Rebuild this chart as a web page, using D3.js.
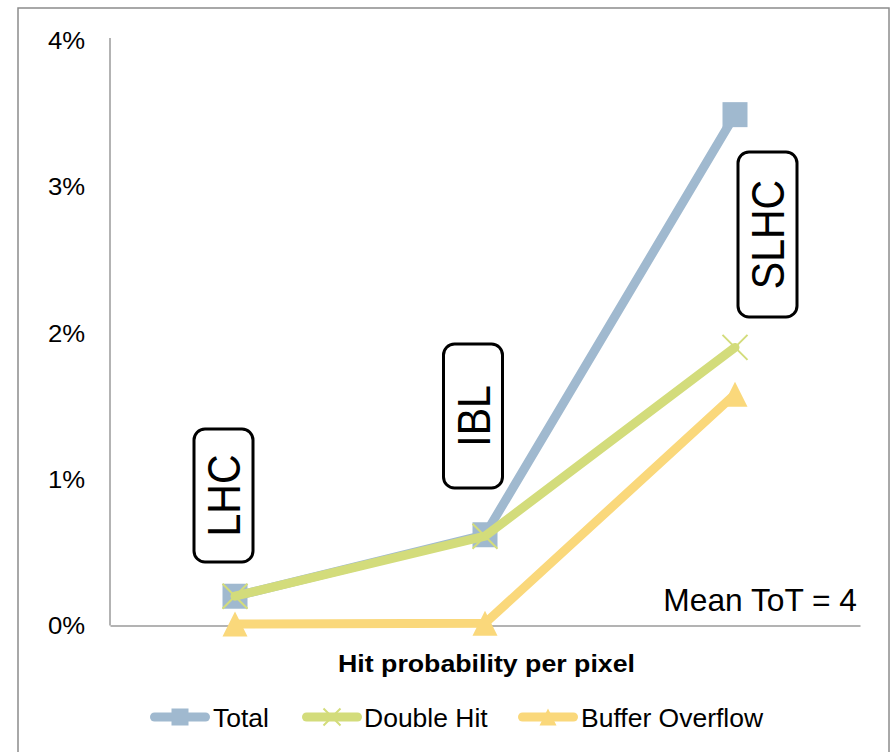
<!DOCTYPE html>
<html>
<head>
<meta charset="utf-8">
<script src="https://cdn.jsdelivr.net/npm/d3@7/dist/d3.min.js"></script>
<style>
  html, body { margin: 0; padding: 0; background: #fff; }
  svg { display: block; font-family: "Liberation Sans", Arial, sans-serif; }
</style>
</head>
<body>
<svg id="chart" width="890" height="752"></svg>
<script>
// Detector scenarios along the x axis
const categories = ["LHC", "IBL", "SLHC"];

// Data loss fraction (%) per scenario
const totalValues = [0.20, 0.62, 3.49];
const doubleHitValues = [0.20, 0.61, 1.90];
const bufferOverflowValues = [0.01, 0.015, 1.58];

const seriesNames = ["Total", "Double Hit", "Buffer Overflow"];
const seriesColors = ["#a0b9cf", "#d3dc7b", "#fad87b"];
const seriesMarkers = ["square", "cross", "triangle"];

const yTicks = [0, 1, 2, 3, 4];
const xTitle = "Hit probability per pixel";
const noteText = "Mean ToT = 4";

const series = seriesNames.map((name, i) => ({
  name,
  color: seriesColors[i],
  marker: seriesMarkers[i],
  values: [totalValues, doubleHitValues, bufferOverflowValues][i]
}));

const svg = d3.select("#chart");

// outer chart frame
svg.append("rect")
  .attr("x", 18).attr("y", 8)
  .attr("width", 871).attr("height", 760)
  .attr("fill", "#fff")
  .attr("stroke", "#8c8c8c").attr("stroke-width", 1.5);

const plot = { left: 110, right: 860, top: 40, bottom: 625.5 };

const x = d3.scalePoint()
  .domain(categories)
  .range([plot.left, plot.right])
  .padding(0.5);

const y = d3.scaleLinear()
  .domain([0, 4])
  .range([plot.bottom, plot.top]);

// stretch a text element horizontally by factor k
function stretch(sel, k) {
  sel.each(function () {
    const w = this.getComputedTextLength();
    d3.select(this)
      .attr("textLength", w * k)
      .attr("lengthAdjust", "spacingAndGlyphs");
  });
}

// Y axis
const yAxis = d3.axisLeft(y)
  .tickValues(yTicks)
  .tickSize(0)
  .tickPadding(25)
  .tickFormat(d => d + "%");

const gy = svg.append("g")
  .attr("transform", `translate(${plot.left},0)`)
  .call(yAxis);
gy.select(".domain").attr("stroke", "#9a9a9a").attr("stroke-width", 1.5)
  .attr("d", `M0,${plot.top - 2}V${plot.bottom}`);
gy.selectAll(".tick text")
  .attr("font-family", "Liberation Sans, Arial, sans-serif")
  .attr("font-size", 24)
  .attr("fill", "#000")
  .attr("dy", "0.35em")
  .call(stretch, 1.07);

// X axis (line only; categories are shown by the callout boxes)
const xAxis = d3.axisBottom(x).tickSize(0).tickFormat("");
const gx = svg.append("g")
  .attr("transform", `translate(0,${plot.bottom})`)
  .call(xAxis);
gx.select(".domain").attr("stroke", "#9a9a9a").attr("stroke-width", 1.5);

// X axis title
svg.append("text")
  .attr("x", 486.5).attr("y", 672)
  .attr("text-anchor", "middle")
  .attr("font-size", 23.5)
  .attr("font-weight", "bold")
  .attr("fill", "#000")
  .attr("textLength", 297)
  .attr("lengthAdjust", "spacingAndGlyphs")
  .text(xTitle);

// Scenario callout boxes (rotated labels)
const callouts = [
  { cat: "LHC", dx: -11.5, cy: 495.5, h: 133 },
  { cat: "IBL", dx: -12, cy: 416, h: 144 },
  { cat: "SLHC", dx: 32.5, cy: 234.5, h: 165 }
];
const boxW = 59;
callouts.forEach(c => {
  const cx = x(c.cat) + c.dx;
  svg.append("rect")
    .attr("x", cx - boxW / 2).attr("y", c.cy - c.h / 2)
    .attr("width", boxW).attr("height", c.h)
    .attr("rx", 11).attr("ry", 11)
    .attr("fill", "#fff")
    .attr("stroke", "#000").attr("stroke-width", 3);
  svg.append("text")
    .attr("transform", `translate(${cx},${c.cy}) rotate(-90) scale(1,1.12)`)
    .attr("text-anchor", "middle")
    .attr("dy", "0.36em")
    .attr("font-size", 41)
    .attr("fill", "#000")
    .text(c.cat);
});

// marker drawing
function drawMarker(g, type, color, cx, cy, s) {
  if (type === "square") {
    g.append("rect")
      .attr("x", cx - s / 2).attr("y", cy - s / 2)
      .attr("width", s).attr("height", s)
      .attr("fill", color);
  } else if (type === "cross") {
    const h = s / 2;
    g.append("path")
      .attr("d", `M${cx - h},${cy - h}L${cx + h},${cy + h}M${cx - h},${cy + h}L${cx + h},${cy - h}`)
      .attr("stroke", color).attr("stroke-width", 2).attr("fill", "none");
  } else if (type === "triangle") {
    const h = s / 2;
    g.append("path")
      .attr("d", `M${cx},${cy - h}L${cx + h},${cy + h}L${cx - h},${cy + h}Z`)
      .attr("fill", color);
  }
}

// Series lines and markers
const line = d3.line()
  .x((d, i) => x(categories[i]))
  .y(d => y(d));

series.forEach(s => {
  const g = svg.append("g");
  g.append("path")
    .attr("d", line(s.values))
    .attr("fill", "none")
    .attr("stroke", s.color)
    .attr("stroke-width", 9)
    .attr("stroke-linejoin", "round")
    .attr("stroke-linecap", "round");
  s.values.forEach((v, i) => {
    drawMarker(g, s.marker, s.color, x(categories[i]), y(v), 25);
  });
});

// Annotation
svg.append("text")
  .attr("x", 857).attr("y", 611)
  .attr("text-anchor", "end")
  .attr("font-size", 30.5)
  .attr("fill", "#000")
  .text(noteText)
  .call(stretch, 1.04);

// Legend
const legendItems = [
  { x0: 150, tx: 213 },
  { x0: 302, tx: 364 },
  { x0: 518, tx: 581 }
];
const legendY = 717;
series.forEach((s, i) => {
  const li = legendItems[i];
  const g = svg.append("g");
  g.append("line")
    .attr("x1", li.x0 + 4.5).attr("x2", li.x0 + 55.5)
    .attr("y1", legendY).attr("y2", legendY)
    .attr("stroke", s.color).attr("stroke-width", 9)
    .attr("stroke-linecap", "round");
  drawMarker(g, s.marker, s.color, li.x0 + 30, legendY, 17);
  g.append("text")
    .attr("x", li.tx).attr("y", legendY + 10)
    .attr("font-size", 25)
    .attr("fill", "#000")
    .text(s.name)
    .call(stretch, 1.06);
});
</script>
</body>
</html>
